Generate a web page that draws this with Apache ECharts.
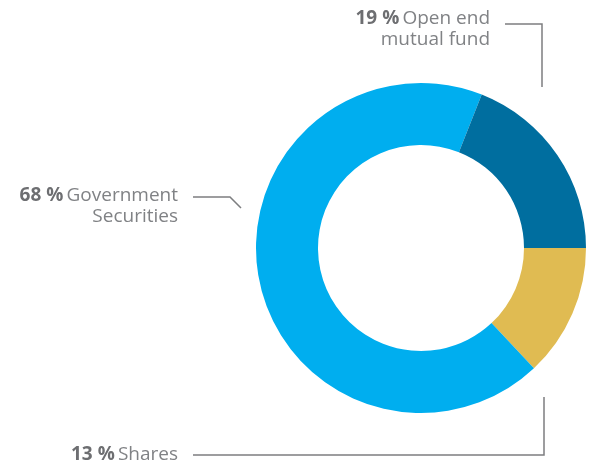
<!DOCTYPE html>
<html>
<head>
<meta charset="utf-8">
<script src="https://cdn.jsdelivr.net/npm/echarts@6/dist/echarts.min.js"></script>
<style>
  html, body { margin: 0; padding: 0; background: #ffffff; }
  #chart { width: 590px; height: 470px; }
</style>
</head>
<body>
<div id="chart"></div>
<script>
// Portfolio allocation (percent), drawn clockwise from 3 o'clock
const categories = ['Shares', 'Government\nSecurities', 'Open end\nmutual fund'];
const shares = [13, 68, 19];
const colors = ['#e0bb52', '#00aeef', '#006e9f'];

// Label placement and leader-line routing for each slice
const labelPlacement = [
  { x: 178, y: 455, line: [[193, 455], [544, 455], [544, 397]] },
  { x: 178, y: 206, line: [[193, 197], [230, 197], [241, 208]] },
  { x: 490, y: 29,  line: [[505, 24], [542, 24], [542, 87]] }
];

const chart = echarts.init(document.getElementById('chart'), null, { renderer: 'canvas' });

chart.setOption({
  animation: false,
  backgroundColor: '#ffffff',
  series: [{
    type: 'pie',
    center: [421, 248],
    radius: [103, 165],
    startAngle: 0,
    clockwise: true,
    silent: true,
    avoidLabelOverlap: false,
    itemStyle: { borderWidth: 0 },
    emphasis: { disabled: true },
    data: categories.map((name, i) => ({
      name: name,
      value: shares[i],
      itemStyle: { color: colors[i] }
    })),
    label: {
      show: true,
      position: 'outside',
      align: 'right',
      fontFamily: 'Open Sans',
      formatter: function (p) {
        const lines = p.name.split('\n');
        let s = '{v|' + p.value + ' %} {t|' + lines[0] + '}';
        for (let k = 1; k < lines.length; k++) s += '\n{t|' + lines[k] + '}';
        return s;
      },
      rich: {
        v: { fontFamily: 'Open Sans', fontSize: 19, fontWeight: 'bold', color: '#6d6e71', lineHeight: 21, align: 'right' },
        t: { fontFamily: 'Open Sans', fontSize: 19, color: '#808285', lineHeight: 21, align: 'right' }
      }
    },
    labelLine: {
      show: true,
      lineStyle: { color: '#7d7e80', width: 1.5 }
    },
    labelLayout: function (params) {
      const p = labelPlacement[params.dataIndex];
      return {
        x: p.x,
        y: p.y,
        align: 'right',
        verticalAlign: 'middle',
        labelLinePoints: p.line
      };
    }
  }]
});
</script>
</body>
</html>
